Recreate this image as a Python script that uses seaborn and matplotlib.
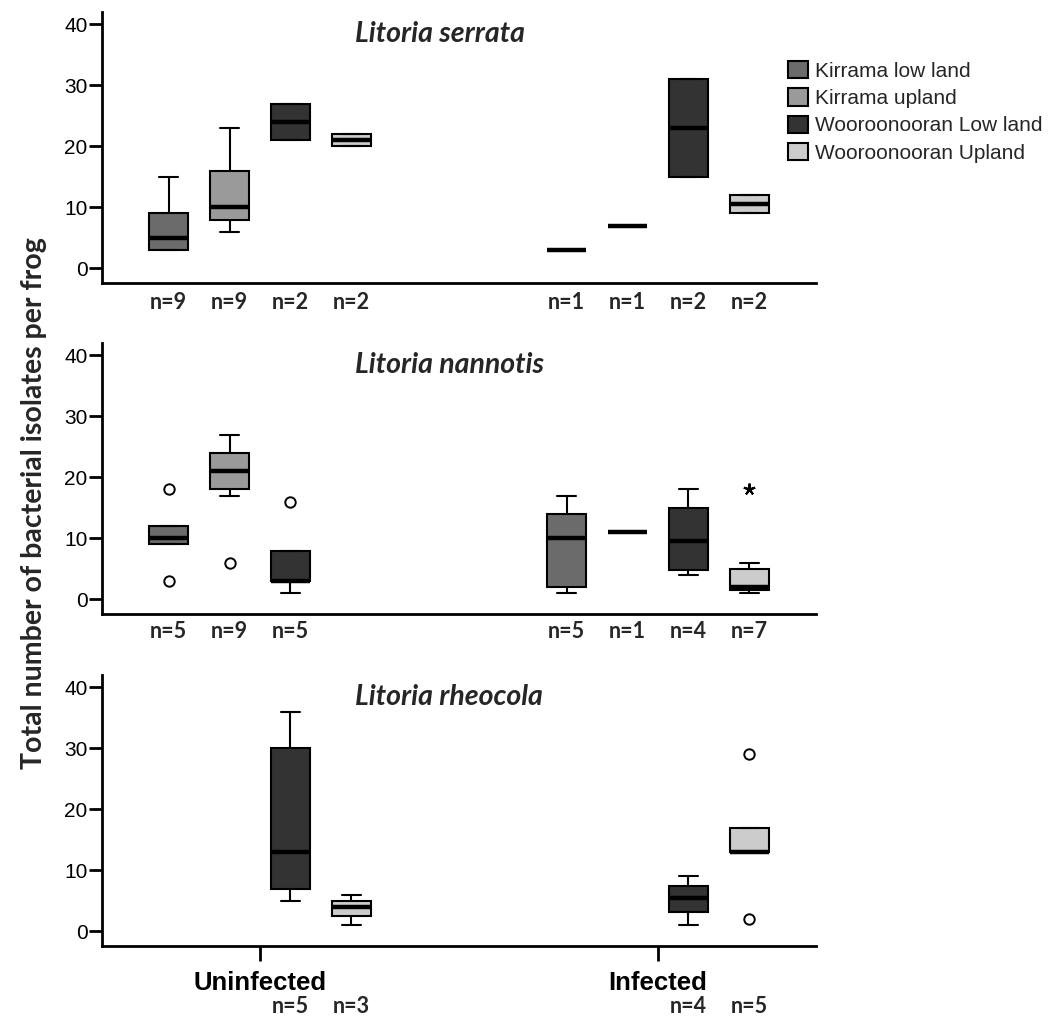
import numpy as np
import pandas as pd
import matplotlib
matplotlib.use("Agg")
import matplotlib.pyplot as plt
import seaborn as sns
from matplotlib.patches import Patch

# ---------------- data ----------------
status_levels = ["Uninfected", "Infected"]
site_levels = ["Kirrama low land", "Kirrama upland",
               "Wooroonooran Low land", "Wooroonooran Upland"]
site_colors = ["#6b6b6b", "#9a9a9a", "#333333", "#cccccc"]
species_titles = ["Litoria serrata", "Litoria nannotis", "Litoria rheocola"]
y_ticks = [0, 10, 20, 30, 40]

# per-frog isolate counts read from the boxes (order = site_levels)
# (two-frog groups list each value twice so that the box spans both values)
serrata_uninfected = [[3, 3, 3, 4, 5, 7, 9, 12, 15],
                      [6, 7, 8, 9, 10, 12, 16, 20, 23],
                      [21, 21, 27, 27],
                      [20, 20, 22, 22]]
serrata_infected = [[3], [7], [15, 15, 31, 31], [9, 9, 12, 12]]
serrata_n_uninfected = [9, 9, 2, 2]
serrata_n_infected = [1, 1, 2, 2]

nannotis_uninfected = [[3, 9, 10, 12, 18],
                       [6, 17, 18, 20, 21, 22, 24, 25, 27],
                       [1, 3, 3, 8, 16],
                       []]
nannotis_infected = [[1, 2, 10, 14, 17], [11], [4, 5, 14, 18],
                     [1, 1, 2, 2, 4, 6, 18]]
nannotis_n_uninfected = [5, 9, 5, None]
nannotis_n_infected = [5, 1, 4, 7]

rheocola_uninfected = [[], [], [5, 7, 13, 30, 36], [1, 4, 6]]
rheocola_infected = [[], [], [1, 4, 7, 9], [2, 13, 13, 17, 29]]
rheocola_n_uninfected = [None, None, 5, 3]
rheocola_n_infected = [None, None, 4, 5]

panels = [
    (species_titles[0], serrata_uninfected, serrata_infected,
     serrata_n_uninfected, serrata_n_infected),
    (species_titles[1], nannotis_uninfected, nannotis_infected,
     nannotis_n_uninfected, nannotis_n_infected),
    (species_titles[2], rheocola_uninfected, rheocola_infected,
     rheocola_n_uninfected, rheocola_n_infected),
]

# ---------------- style ----------------
sns.set_style("ticks")
plt.rcParams["font.family"] = ["Liberation Sans", "DejaVu Sans"]
plt.rcParams["axes.linewidth"] = 2.0

W, H = 1055, 1016
fig = plt.figure(figsize=(W / 100, H / 100), dpi=100)

group_width = 0.613
box_gap = 0.36
palette = dict(zip(site_levels, site_colors))

ax_left = 102 / W
ax_width = (816 - 102) / W
ax_height = 271 / H
bottoms_px = [283, 614, 946]
nlabel_offsets = [-0.073, -0.065, -0.222]

for p, (title, unin, inf, n_unin, n_inf) in enumerate(panels):
    ax = fig.add_axes([ax_left, 1 - bottoms_px[p] / H, ax_width, ax_height])
    rows = []
    for status, groups in zip(status_levels, [unin, inf]):
        for site, vals in zip(site_levels, groups):
            for v in vals:
                rows.append((status, site, v))
    df = pd.DataFrame(rows, columns=["status", "site", "value"])

    sns.boxplot(data=df, x="status", y="value", hue="site",
                order=status_levels, hue_order=site_levels,
                palette=palette, saturation=1, width=group_width,
                gap=box_gap, dodge=True, linecolor="black", linewidth=1.5,
                showfliers=False, legend=False,
                medianprops=dict(linewidth=3.2, color="black"),
                ax=ax)

    # outliers: circles (>1.5 IQR) and stars (>3 IQR)
    for s_idx, groups in enumerate([unin, inf]):
        for h_idx, vals in enumerate(groups):
            if len(vals) == 0:
                continue
            xpos = s_idx + (h_idx - (len(site_levels) - 1) / 2) * group_width / len(site_levels)
            q1, q3 = np.percentile(vals, [25, 75])
            iqr = q3 - q1
            mild = [v for v in vals if (q1 - 3 * iqr <= v < q1 - 1.5 * iqr) or
                    (q3 + 1.5 * iqr < v <= q3 + 3 * iqr)]
            extreme = [v for v in vals if v < q1 - 3 * iqr or v > q3 + 3 * iqr]
            if mild:
                ax.plot([xpos] * len(mild), mild, linestyle="none", marker="o",
                        ms=7.5, mfc="white", mec="black", mew=1.4, zorder=5)
            if extreme:
                ax.plot([xpos] * len(extreme), extreme, linestyle="none",
                        marker=(5, 2, 0), ms=8.5, mec="black", mew=1.5, zorder=5)

    # n labels
    for s_idx, ns in enumerate([n_unin, n_inf]):
        for h_idx, n in enumerate(ns):
            if n is None:
                continue
            xpos = s_idx + (h_idx - (len(site_levels) - 1) / 2) * group_width / len(site_levels)
            ax.text(xpos, nlabel_offsets[p], f"n={n}", transform=ax.get_xaxis_transform(),
                    ha="center", va="center", fontsize=15.5, fontweight="bold",
                    family=["Lato", "DejaVu Sans"])

    ax.text(0.354, 0.92, title, transform=ax.transAxes, ha="left", va="center",
            fontsize=20.5, fontweight="bold", style="italic",
            family=["Lato", "DejaVu Sans"])

    ax.set_xlim(-0.397, 1.397)
    ax.set_ylim(-2.4, 42)
    ax.set_yticks(y_ticks)
    ax.tick_params(axis="y", length=9.5, width=2, pad=1, labelsize=15, colors="black")
    ax.set_xlabel("")
    ax.set_ylabel("")
    for side in ["top", "right"]:
        ax.spines[side].set_visible(False)
    for side in ["left", "bottom"]:
        ax.spines[side].set_color("black")
        ax.spines[side].set_linewidth(2)
    if p < 2:
        ax.set_xticks([])
    else:
        ax.set_xticks(range(len(status_levels)), status_levels)
        ax.tick_params(axis="x", length=11, width=2, pad=7, colors="black")
        for lab in ax.get_xticklabels():
            lab.set_fontsize(18.5)
            lab.set_fontweight("bold")

fig.text(34 / W, 1 - 503 / H, "Total number of bacterial isolates per frog",
         rotation=90, ha="center", va="center", fontsize=20.5, fontweight="bold",
         family=["Lato", "DejaVu Sans"])

handles = [Patch(facecolor=c, edgecolor="black", linewidth=1.5) for c in site_colors]
fig.legend(handles, site_levels, loc="upper left",
           bbox_to_anchor=(788 / W, 1 - 61 / H), frameon=False, fontsize=15,
           handlelength=0.95, handleheight=0.9, handletextpad=0.35,
           labelspacing=0.36, borderpad=0, borderaxespad=0)

fig.savefig("out.png", dpi=100)
